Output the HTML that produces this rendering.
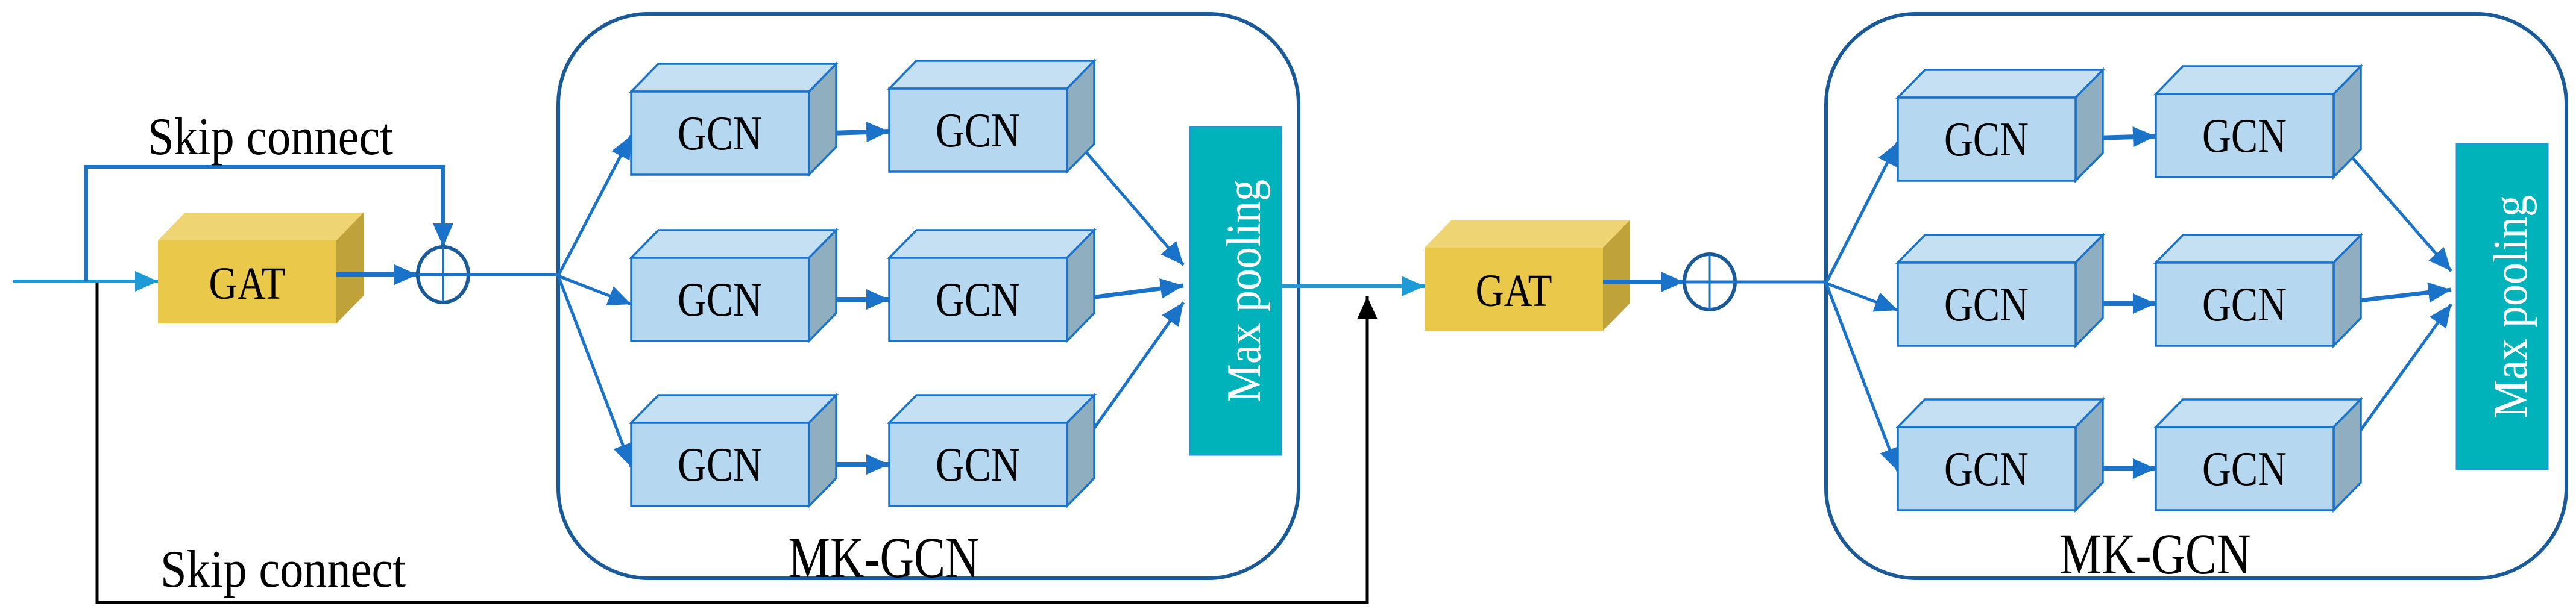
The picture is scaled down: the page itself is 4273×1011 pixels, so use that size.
<!DOCTYPE html>
<html><head><meta charset="utf-8"><style>html,body{margin:0;padding:0;background:#fff}svg{display:block}</style></head>
<body>
<svg width="4273" height="1011" viewBox="0 0 4273 1011" xmlns="http://www.w3.org/2000/svg" font-family="Liberation Serif, serif">
<defs>
<marker id="ab" markerUnits="userSpaceOnUse" markerWidth="40" markerHeight="40" viewBox="0 0 40 40" refX="38" refY="20" orient="auto"><path d="M0,3 L38,20 L0,37 Z" fill="#1a73c9"/></marker>
<marker id="al" markerUnits="userSpaceOnUse" markerWidth="40" markerHeight="40" viewBox="0 0 40 40" refX="38" refY="20" orient="auto"><path d="M0,3 L38,20 L0,37 Z" fill="#1e9ad6"/></marker>
<marker id="ak" markerUnits="userSpaceOnUse" markerWidth="40" markerHeight="40" viewBox="0 0 40 40" refX="38" refY="20" orient="auto"><path d="M0,3 L38,20 L0,37 Z" fill="#000"/></marker>
<g id="cube" stroke="#1a73c9" stroke-width="3.5" stroke-linejoin="miter">
<polygon points="0,0 45,-46 340,-46 295,0" fill="#c4e0f2"/>
<polygon points="295,0 340,-46 340,92 295,138" fill="#8fafc0"/>
<rect x="0" y="0" width="295" height="138" fill="#b5d8f0"/>
</g>
<g id="gat">
<polygon points="0,0 45,-46 341,-46 296,0" fill="#efd473"/>
<polygon points="296,0 341,-46 341,92 296,138" fill="#c0a23a"/>
<rect x="0" y="0" width="296" height="138" fill="#e9c84a"/>
</g>
</defs>

<rect x="926" y="23" width="1228" height="937" rx="150" ry="150" fill="none" stroke="#1a5a98" stroke-width="6"/>
<rect x="3029" y="23" width="1228" height="937" rx="150" ry="150" fill="none" stroke="#1a5a98" stroke-width="6"/>

<line x1="22" y1="467" x2="262" y2="467" stroke="#1e9ad6" stroke-width="6" marker-end="url(#al)"/>
<polyline points="143,467 143,277 735,277 735,409" fill="none" stroke="#1a73c9" stroke-width="6" marker-end="url(#ab)"/>
<polyline points="161,470 161,1000 2268,1000 2268,492" fill="none" stroke="#000" stroke-width="5" marker-end="url(#ak)"/>
<text x="245" y="256" font-size="88" textLength="407" lengthAdjust="spacingAndGlyphs">Skip connect</text>
<text x="266" y="974" font-size="88" textLength="407" lengthAdjust="spacingAndGlyphs">Skip connect</text>

<use href="#gat" x="262" y="399"/>
<text x="410" y="496" font-size="76" text-anchor="middle" textLength="127" lengthAdjust="spacingAndGlyphs">GAT</text>
<line x1="558" y1="456" x2="692" y2="456" stroke="#1a73c9" stroke-width="8" marker-end="url(#ab)"/>
<ellipse cx="735" cy="456" rx="42" ry="46" fill="none" stroke="#1a5a98" stroke-width="6"/>
<line x1="735" y1="410" x2="735" y2="502" stroke="#1a73c9" stroke-width="3"/>
<line x1="693" y1="456" x2="926" y2="456" stroke="#1a73c9" stroke-width="5"/>

<g stroke="#1a73c9" stroke-width="5" fill="none">
<line x1="926" y1="458" x2="1047" y2="225" marker-end="url(#ab)"/>
<line x1="926" y1="458" x2="1047" y2="505" marker-end="url(#ab)"/>
<line x1="926" y1="458" x2="1047" y2="775" marker-end="url(#ab)"/>
<line x1="1342" y1="222" x2="1475" y2="218" stroke-width="8" marker-end="url(#ab)"/>
<line x1="1342" y1="497" x2="1475" y2="497" stroke-width="8" marker-end="url(#ab)"/>
<line x1="1342" y1="771" x2="1475" y2="771" stroke-width="8" marker-end="url(#ab)"/>
<line x1="1771" y1="217" x2="1963" y2="440" marker-end="url(#ab)"/>
<line x1="1771" y1="499" x2="1963" y2="474" stroke-width="7" marker-end="url(#ab)"/>
<line x1="1771" y1="773" x2="1963" y2="502" marker-end="url(#ab)"/>
</g>

<use href="#cube" x="1047" y="152"/><use href="#cube" x="1475" y="147"/>
<use href="#cube" x="1047" y="428"/><use href="#cube" x="1475" y="428"/>
<use href="#cube" x="1047" y="702"/><use href="#cube" x="1475" y="702"/>
<g font-size="80" text-anchor="middle">
<text x="1194" y="248" textLength="140" lengthAdjust="spacingAndGlyphs">GCN</text>
<text x="1622" y="243" textLength="140" lengthAdjust="spacingAndGlyphs">GCN</text>
<text x="1194" y="524" textLength="140" lengthAdjust="spacingAndGlyphs">GCN</text>
<text x="1622" y="524" textLength="140" lengthAdjust="spacingAndGlyphs">GCN</text>
<text x="1194" y="798" textLength="140" lengthAdjust="spacingAndGlyphs">GCN</text>
<text x="1622" y="798" textLength="140" lengthAdjust="spacingAndGlyphs">GCN</text>
</g>

<rect x="1974" y="211" width="151" height="544" fill="#00b2b9" stroke="#1e9ad6" stroke-width="3"/>
<text transform="translate(2090,483) rotate(-90)" font-size="80" fill="#fff" text-anchor="middle" textLength="370" lengthAdjust="spacingAndGlyphs">Max pooling</text>
<text x="1466" y="958" font-size="96" text-anchor="middle" textLength="317" lengthAdjust="spacingAndGlyphs">MK-GCN</text>

<line x1="2126" y1="475" x2="2363" y2="475" stroke="#1e9ad6" stroke-width="6" marker-end="url(#al)"/>

<use href="#gat" x="2363" y="411"/>
<text x="2511" y="508" font-size="76" text-anchor="middle" textLength="127" lengthAdjust="spacingAndGlyphs">GAT</text>
<line x1="2659" y1="468" x2="2793" y2="468" stroke="#1a73c9" stroke-width="8" marker-end="url(#ab)"/>
<ellipse cx="2836" cy="468" rx="42" ry="46" fill="none" stroke="#1a5a98" stroke-width="6"/>
<line x1="2836" y1="422" x2="2836" y2="514" stroke="#1a73c9" stroke-width="3"/>
<line x1="2794" y1="468" x2="3029" y2="468" stroke="#1a73c9" stroke-width="5"/>

<g stroke="#1a73c9" stroke-width="5" fill="none">
<line x1="3029" y1="470" x2="3148" y2="236" marker-end="url(#ab)"/>
<line x1="3029" y1="470" x2="3148" y2="515" marker-end="url(#ab)"/>
<line x1="3029" y1="470" x2="3148" y2="782" marker-end="url(#ab)"/>
<line x1="3443" y1="230" x2="3576" y2="226" stroke-width="8" marker-end="url(#ab)"/>
<line x1="3443" y1="504" x2="3576" y2="504" stroke-width="8" marker-end="url(#ab)"/>
<line x1="3443" y1="778" x2="3576" y2="778" stroke-width="8" marker-end="url(#ab)"/>
<line x1="3870" y1="225" x2="4066" y2="450" marker-end="url(#ab)"/>
<line x1="3870" y1="504" x2="4066" y2="481" stroke-width="7" marker-end="url(#ab)"/>
<line x1="3870" y1="778" x2="4066" y2="505" marker-end="url(#ab)"/>
</g>

<use href="#cube" x="3148" y="162"/><use href="#cube" x="3576" y="156"/>
<use href="#cube" x="3148" y="436"/><use href="#cube" x="3576" y="436"/>
<use href="#cube" x="3148" y="709"/><use href="#cube" x="3576" y="709"/>
<g font-size="80" text-anchor="middle">
<text x="3295" y="258" textLength="140" lengthAdjust="spacingAndGlyphs">GCN</text>
<text x="3723" y="252" textLength="140" lengthAdjust="spacingAndGlyphs">GCN</text>
<text x="3295" y="532" textLength="140" lengthAdjust="spacingAndGlyphs">GCN</text>
<text x="3723" y="532" textLength="140" lengthAdjust="spacingAndGlyphs">GCN</text>
<text x="3295" y="805" textLength="140" lengthAdjust="spacingAndGlyphs">GCN</text>
<text x="3723" y="805" textLength="140" lengthAdjust="spacingAndGlyphs">GCN</text>
</g>

<rect x="4075" y="239" width="151" height="540" fill="#00b2b9" stroke="#1e9ad6" stroke-width="3"/>
<text transform="translate(4191,509) rotate(-90)" font-size="80" fill="#fff" text-anchor="middle" textLength="370" lengthAdjust="spacingAndGlyphs">Max pooling</text>
<text x="3575" y="952" font-size="96" text-anchor="middle" textLength="317" lengthAdjust="spacingAndGlyphs">MK-GCN</text>
</svg>
</body></html>
